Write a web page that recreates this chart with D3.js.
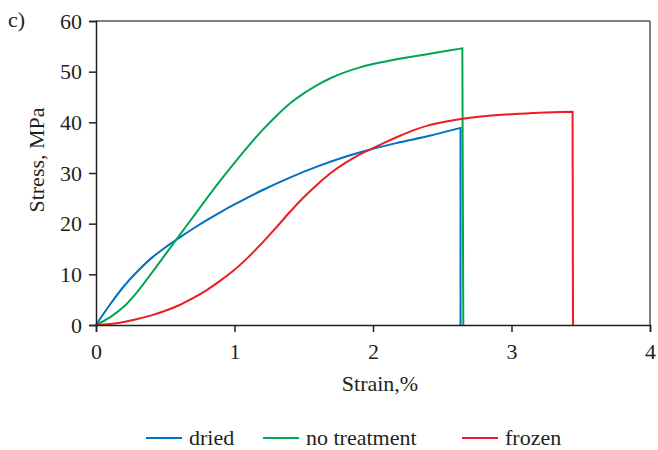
<!DOCTYPE html>
<html><head><meta charset="utf-8">
<script src="https://cdn.jsdelivr.net/npm/d3@7"></script>
<style>body{margin:0;background:#fff}svg{display:block}</style>
</head><body><svg id="c" width="658" height="450"></svg>
<script>
const xTicks=[0,1,2,3,4];
const yTicks=[0,10,20,30,40,50,60];
const seriesNames=["dried","no treatment","frozen"];
const seriesColors=["#0070c0","#00a651","#ed1c24"];
const driedStrain=[0,0.1,0.2,0.3,0.4,0.5,0.6,0.7,0.8,0.9,1.0,1.2,1.4,1.6,1.8,2.0,2.2,2.4,2.632,2.632];
const driedStress=[0,4.0,7.6,10.6,13.2,15.3,17.2,19.0,20.7,22.3,23.8,26.6,29.1,31.3,33.2,34.8,36.1,37.3,38.9,0];
const noTreatStrain=[0,0.1,0.2,0.3,0.4,0.5,0.6,0.7,0.8,0.9,1.0,1.1,1.2,1.3,1.4,1.5,1.6,1.7,1.8,1.9,2.0,2.2,2.4,2.645,2.652];
const noTreatStress=[0,1.5,3.6,6.6,10.2,13.9,17.6,21.3,25.0,28.6,32.0,35.3,38.4,41.2,43.7,45.7,47.4,48.8,49.9,50.8,51.5,52.6,53.5,54.6,0];
const frozenStrain=[0,0.1,0.2,0.3,0.4,0.5,0.6,0.7,0.8,0.9,1.0,1.1,1.2,1.3,1.4,1.5,1.6,1.7,1.8,1.9,2.0,2.1,2.2,2.3,2.4,2.5,2.6,2.7,2.8,3.0,3.2,3.441,3.444];
const frozenStress=[0,0.2,0.6,1.2,1.9,2.8,3.9,5.3,6.9,8.8,10.9,13.4,16.2,19.2,22.3,25.2,27.8,30.1,32.0,33.6,34.9,36.2,37.4,38.5,39.4,40.0,40.5,40.9,41.2,41.6,41.9,42.1,0];

const FONT="'Liberation Serif','Times New Roman',serif";
const FS="22px";
const TXT="#231f20";
const svg=d3.select("#c");
const x=d3.scaleLinear().domain([0,4]).range([96,650]);
const y=d3.scaleLinear().domain([0,60]).range([325,21]);

svg.append("line").attr("x1",96).attr("x2",650).attr("y1",21).attr("y2",21).attr("stroke","#555").attr("stroke-width",1.5);
svg.append("line").attr("x1",650).attr("x2",650).attr("y1",21).attr("y2",325).attr("stroke","#555").attr("stroke-width",1.5);

const series=[[driedStrain,driedStress],[noTreatStrain,noTreatStress],[frozenStrain,frozenStress]];
const line=d3.line().x(d=>x(d[0])).y(d=>y(d[1])).curve(d3.curveCatmullRom.alpha(0.5));
series.forEach((s,i)=>{
  const pts=s[0].map((v,j)=>[v,s[1][j]]);
  const curvePts=pts.slice(0,-1);
  const drop=pts[pts.length-1];
  svg.append("path").attr("d",line(curvePts)+"L"+x(drop[0])+","+y(drop[1]))
    .attr("fill","none").attr("stroke",seriesColors[i]).attr("stroke-width",2).attr("stroke-linejoin","miter");
});

const xa=svg.append("g").attr("transform","translate(0,325)").call(d3.axisBottom(x).tickValues(xTicks).tickSize(7).tickPadding(11).tickFormat(d3.format("d")));
const ya=svg.append("g").attr("transform","translate(96,0)").call(d3.axisLeft(y).tickValues(yTicks).tickSize(7).tickPadding(7).tickFormat(d3.format("d")));
[xa,ya].forEach(a=>{a.select(".domain").attr("stroke",TXT).attr("stroke-width",1.5);
  a.selectAll(".tick line").attr("stroke",TXT).attr("stroke-width",1.5);
  a.selectAll("text").style("font-size",FS).style("font-family",FONT).attr("fill",TXT);});

function txt(){return svg.append("text").style("font-family",FONT).style("font-size",FS).attr("fill",TXT);}
txt().attr("x",8).attr("y",27).text("c)");
txt().attr("transform","translate(44,160) rotate(-90)").attr("text-anchor","middle").text("Stress, MPa");
txt().attr("x",380).attr("y",391).attr("text-anchor","middle").text("Strain,%");

const legX=[146,263,462];
seriesNames.forEach((n,i)=>{
  svg.append("line").attr("x1",legX[i]).attr("x2",legX[i]+36).attr("y1",438).attr("y2",438).attr("stroke",seriesColors[i]).attr("stroke-width",2);
  txt().attr("x",legX[i]+43).attr("y",445).text(n);
});
</script></body></html>
